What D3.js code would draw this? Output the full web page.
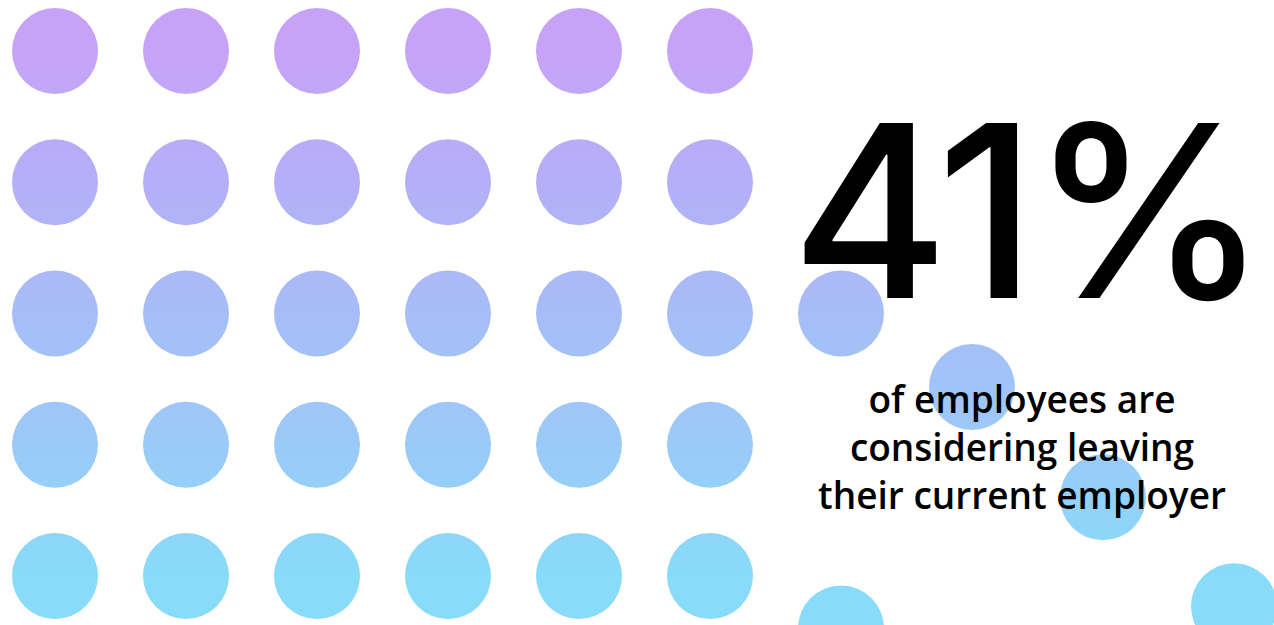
<!DOCTYPE html>
<html>
<head>
<meta charset="utf-8">
<script src="https://cdn.jsdelivr.net/npm/d3@7.9.0/dist/d3.min.js"></script>
<style>
  html, body { margin: 0; padding: 0; background: #fff; overflow: hidden; }
  svg { display: block; }
</style>
</head>
<body>
<svg width="1274" height="625"></svg>
<script>
// dots: column index and row position (in grid units)
const dotCols = [0, 1, 2, 3, 4, 5,
                 0, 1, 2, 3, 4, 5,
                 0, 1, 2, 3, 4, 5, 6,
                 0, 1, 2, 3, 4, 5,
                 0, 1, 2, 3, 4, 5,
                 7, 8, 6, 9];
const dotRows = [0, 0, 0, 0, 0, 0,
                 1, 1, 1, 1, 1, 1,
                 2, 2, 2, 2, 2, 2, 2,
                 3, 3, 3, 3, 3, 3,
                 4, 4, 4, 4, 4, 4,
                 2.56, 3.4, 4.4, 4.23];

const bigValue = '41%';
const subtitle = ['of employees are', 'considering leaving', 'their current employer'];

// gradient stops (row position -> colour)
const stopRows = [0, 1, 2, 3, 4];
const stopColors = ['#c7a3f8', '#b4aff7', '#a7bdf7', '#9bcaf8', '#88dbf9'];

const svg = d3.select('svg');

let x = d3.scaleLinear().domain([0, 9]).range([55, 1234]);
let y = d3.scaleLinear().domain([0, 4]).range([51, 576]);
let r = 43;

let grad = svg.append('defs')
  .append('linearGradient')
  .attr('id', 'dotGrad')
  .attr('gradientUnits', 'userSpaceOnUse')
  .attr('x1', 0).attr('x2', 0)
  .attr('y1', y(0)).attr('y2', y(4));

stopRows.forEach((s, idx) => {
  grad.append('stop')
    .attr('offset', s / 4)
    .attr('stop-color', stopColors[idx]);
});

svg.selectAll('circle')
  .data(dotCols.map((c, i) => ({ col: c, row: dotRows[i] })))
  .join('circle')
  .attr('cx', (d) => x(d.col))
  .attr('cy', (d) => y(d.row))
  .attr('r', r)
  .attr('fill', 'url(#dotGrad)');

svg.append('text')
  .attr('x', 1027)
  .attr('y', 298)
  .attr('text-anchor', 'middle')
  .style('font-family', "Inter, sans-serif")
  .style('font-weight', 500)
  .style('font-size', '240px')
  .style('letter-spacing', '-6px')
  .attr('fill', '#000')
  .text(bigValue);

svg.append('g')
  .selectAll('text')
  .data(subtitle)
  .join('text')
  .attr('x', 1022)
  .attr('y', (d, i) => 413 + i * 48)
  .attr('text-anchor', 'middle')
  .style('font-family', "'Open Sans', sans-serif")
  .style('font-weight', 600)
  .style('font-size', '37px')
  .attr('fill', '#000')
  .text((d) => d);
</script>
</body>
</html>
